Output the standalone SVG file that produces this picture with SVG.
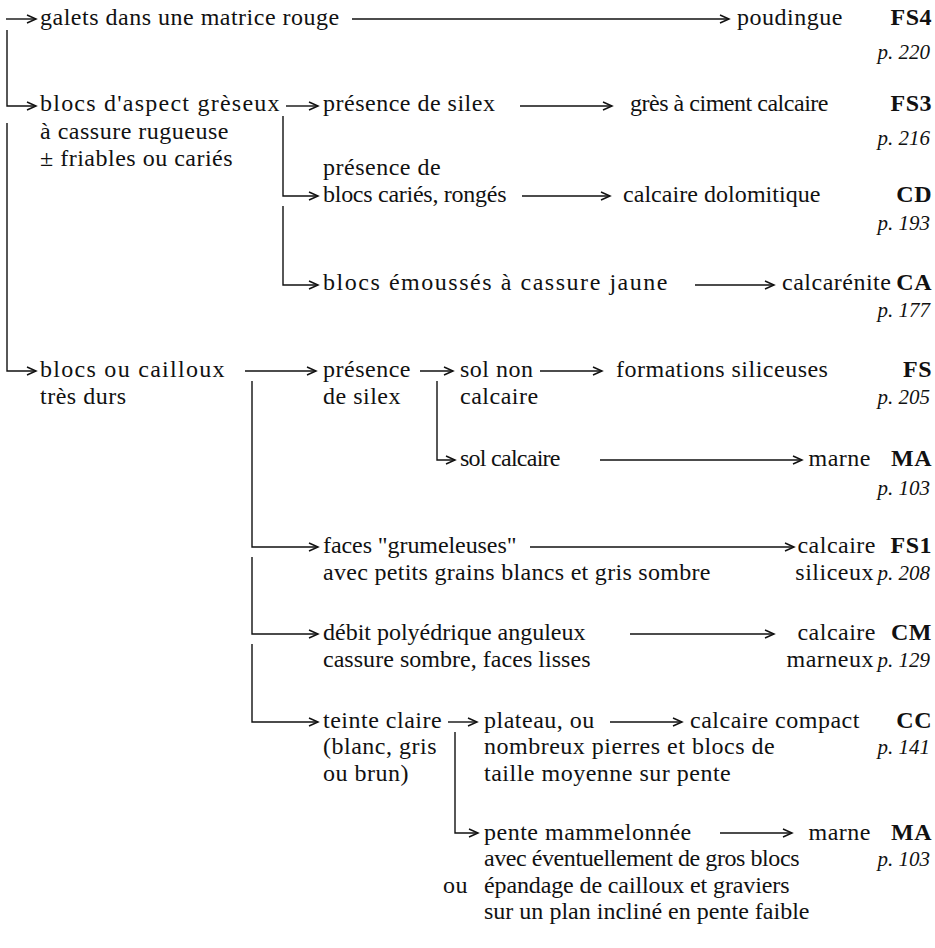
<svg xmlns="http://www.w3.org/2000/svg" width="935" height="948" viewBox="0 0 935 948">
<style>
text{font-family:"Liberation Serif","Times New Roman",serif;font-size:24px;fill:#111;letter-spacing:0.5px}
.b{font-weight:bold}
.i{font-style:italic;font-size:21px;letter-spacing:0}
.e{text-anchor:end}
.c path{fill:none;stroke:#111;stroke-width:1.4;marker-end:url(#ah)}
</style>
<defs>
<marker id="ah" markerUnits="userSpaceOnUse" markerWidth="12" markerHeight="12" refX="10" refY="5" orient="auto">
<path d="M1,1 L10,5 L1,9" fill="none" stroke="#111" stroke-width="1.5"/>
</marker>
</defs>
<g class="c" id="connectors">
<path d="M6,19 H36"/>
<path d="M7,30 V106 H36"/>
<path d="M7,123 V371 H36"/>
<path d="M352,19 H729"/>
<path d="M286,106 H318"/>
<path d="M283,116 V196 H318"/>
<path d="M283,206 V285 H318"/>
<path d="M520,106 H612"/>
<path d="M522,196 H610"/>
<path d="M695,285 H774"/>
<path d="M245,371 H316"/>
<path d="M420,371 H453"/>
<path d="M437,381 V460 H455"/>
<path d="M540,371 H602"/>
<path d="M600,460 H802"/>
<path d="M252,381 V547 H318"/>
<path d="M252,557 V634 H318"/>
<path d="M252,644 V722 H318"/>
<path d="M530,547 H794"/>
<path d="M630,634 H774"/>
<path d="M448,722 H477"/>
<path d="M455,732 V833 H478"/>
<path d="M610,722 H682"/>
<path d="M720,833 H792"/>
</g>
<g id="n1"><text x="40" y="25">galets dans une matrice rouge</text></g>
<g id="r1"><text x="737" y="25">poudingue</text><text class="b e" x="932" y="25">FS4</text><text class="i e" x="930" y="59">p. 220</text></g>
<g id="n2"><text x="40" y="111" textLength="240" lengthAdjust="spacing">blocs d'aspect grèseux</text><text x="40" y="139">à cassure rugueuse</text><text x="40" y="166">± friables ou cariés</text></g>
<g id="n3"><text x="323" y="111">présence de silex</text></g>
<g id="r3"><text x="630" y="111" textLength="199" lengthAdjust="spacing">grès à ciment calcaire</text><text class="b e" x="932" y="111">FS3</text><text class="i e" x="930" y="145">p. 216</text></g>
<g id="n4"><text x="323" y="175">présence de</text><text x="323" y="202" textLength="184" lengthAdjust="spacing">blocs cariés, rongés</text></g>
<g id="r4"><text x="623" y="202" textLength="198" lengthAdjust="spacing">calcaire dolomitique</text><text class="b e" x="932" y="202">CD</text><text class="i e" x="930" y="230">p. 193</text></g>
<g id="n5"><text x="323" y="290" textLength="345" lengthAdjust="spacing">blocs émoussés à cassure jaune</text></g>
<g id="r5"><text x="782" y="290">calcarénite</text><text class="b e" x="932" y="290">CA</text><text class="i e" x="930" y="317">p. 177</text></g>
<g id="n6"><text x="40" y="377" textLength="185" lengthAdjust="spacing">blocs ou cailloux</text><text x="40" y="404">très durs</text></g>
<g id="n7"><text x="323" y="377">présence</text><text x="323" y="404">de silex</text></g>
<g id="n8"><text x="460" y="377">sol non</text><text x="460" y="404">calcaire</text></g>
<g id="r8"><text x="616" y="377">formations siliceuses</text><text class="b e" x="932" y="377">FS</text><text class="i e" x="930" y="404">p. 205</text></g>
<g id="n9"><text x="460" y="466" textLength="101" lengthAdjust="spacing">sol calcaire</text></g>
<g id="r9"><text class="e" x="871" y="466">marne</text><text class="b e" x="932" y="466">MA</text><text class="i e" x="930" y="495">p. 103</text></g>
<g id="n10"><text x="323" y="553" textLength="194" lengthAdjust="spacing">faces "grumeleuses"</text><text x="323" y="580" textLength="388" lengthAdjust="spacing">avec petits grains blancs et gris sombre</text></g>
<g id="r10"><text class="e" x="876" y="553">calcaire</text><text class="b e" x="932" y="553">FS1</text><text class="e" x="874" y="580">siliceux</text><text class="i e" x="930" y="580">p. 208</text></g>
<g id="n11"><text x="323" y="640" textLength="263" lengthAdjust="spacing">débit polyédrique anguleux</text><text x="323" y="667" textLength="268" lengthAdjust="spacing">cassure sombre, faces lisses</text></g>
<g id="r11"><text class="e" x="876" y="640">calcaire</text><text class="b e" x="932" y="640">CM</text><text class="e" x="874" y="667">marneux</text><text class="i e" x="930" y="667">p. 129</text></g>
<g id="n12"><text x="323" y="728">teinte claire</text><text x="323" y="754">(blanc, gris</text><text x="323" y="781">ou brun)</text></g>
<g id="n13"><text x="484" y="728">plateau, ou</text><text x="484" y="754">nombreux pierres et blocs de</text><text x="484" y="781">taille moyenne sur pente</text></g>
<g id="r13"><text x="690" y="728">calcaire compact</text><text class="b e" x="932" y="728">CC</text><text class="i e" x="930" y="754">p. 141</text></g>
<g id="n14"><text x="484" y="840">pente mammelonnée</text><text x="484" y="866" textLength="316" lengthAdjust="spacing">avec éventuellement de gros blocs</text><text x="443" y="893">ou</text><text x="484" y="893" textLength="306" lengthAdjust="spacing">épandage de cailloux et graviers</text><text x="484" y="919" textLength="326" lengthAdjust="spacing">sur un plan incliné en pente faible</text></g>
<g id="r14"><text class="e" x="871" y="840">marne</text><text class="b e" x="932" y="840">MA</text><text class="i e" x="930" y="866">p. 103</text></g>
</svg>
